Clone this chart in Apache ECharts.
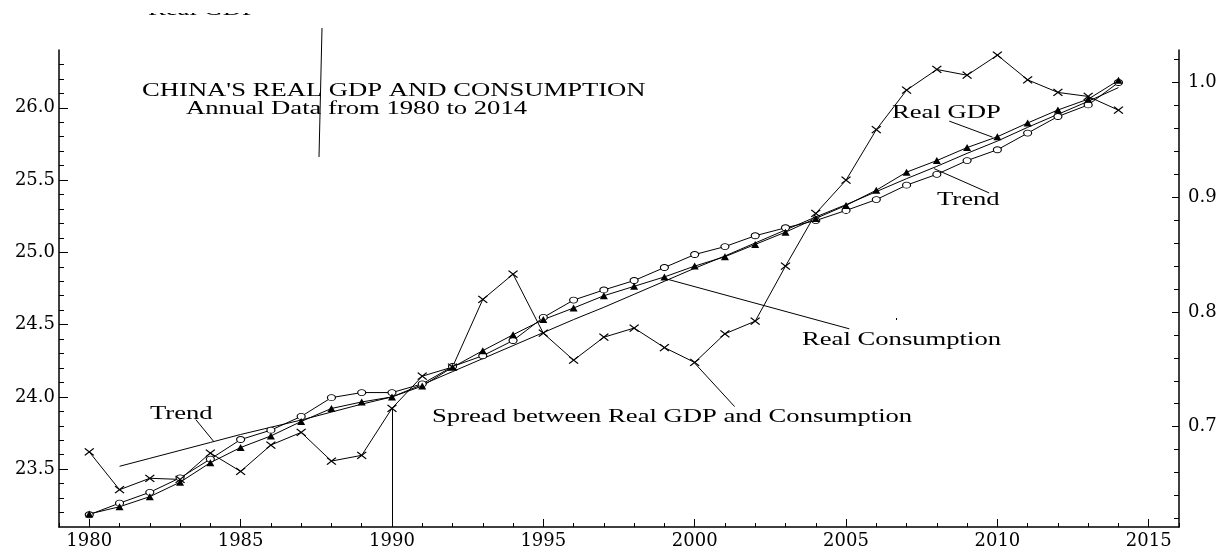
<!DOCTYPE html>
<html>
<head>
<meta charset="utf-8">
<script src="https://cdn.jsdelivr.net/npm/echarts@6/dist/echarts.min.js"></script>
<style>
  html, body { margin: 0; padding: 0; background: #fff; }
  #echart-box { width: 1230px; height: 546px; }
</style>
</head>
<body>
<div id="echart-box"></div>
<script>
// annual data 1980 - 2014
var years = [1980, 1981, 1982, 1983, 1984, 1985, 1986, 1987, 1988, 1989,
             1990, 1991, 1992, 1993, 1994, 1995, 1996, 1997, 1998, 1999,
             2000, 2001, 2002, 2003, 2004, 2005, 2006, 2007, 2008, 2009,
             2010, 2011, 2012, 2013, 2014];

// log real GDP (triangles, left axis)
var realGdp = [23.19, 23.24, 23.31, 23.41, 23.545, 23.65, 23.73, 23.83, 23.92, 23.965,
               24.00, 24.075, 24.205, 24.32, 24.43, 24.535, 24.615, 24.70, 24.765, 24.83,
               24.905, 24.97, 25.055, 25.14, 25.235, 25.325, 25.43, 25.555, 25.635, 25.725,
               25.80, 25.895, 25.985, 26.06, 26.19];

// log real consumption (open circles, left axis)
var realCons = [23.185, 23.265, 23.34, 23.44, 23.57, 23.705, 23.77, 23.865, 23.995, 24.03,
                24.03, 24.09, 24.21, 24.285, 24.39, 24.55, 24.67, 24.74, 24.805, 24.895,
                24.985, 25.04, 25.115, 25.17, 25.22, 25.29, 25.365, 25.465, 25.54, 25.635,
                25.71, 25.825, 25.94, 26.02, 26.175];

// trend (plain line, left axis)
var trend = ['-', 23.52, 23.575, 23.63, 23.685, 23.74, 23.79, 23.84, 23.895, 23.95,
             24.00, 24.085, 24.175, 24.265, 24.355, 24.445, 24.535, 24.62, 24.71, 24.80,
             24.89, 24.975, 25.065, 25.155, 25.245, 25.33, 25.42, 25.51, 25.595, 25.685,
             25.77, 25.865, 25.955, 26.045, 26.14];

// spread between real GDP and consumption (crosses, right axis)
var spread = [0.678, 0.645, 0.655, 0.654, 0.677, 0.661, 0.684, 0.695, 0.670, 0.675,
              0.716, 0.744, 0.752, 0.811, 0.833, 0.7815, 0.758, 0.778, 0.786, 0.769,
              0.756, 0.781, 0.792, 0.840, 0.886, 0.915, 0.959, 0.9935, 1.0115, 1.0065,
              1.024, 1.0025, 0.9915, 0.988, 0.976];

// tick labels and minor ticks
var xLabels = [1980, 1985, 1990, 1995, 2000, 2005, 2010, 2015];
var xMinor = [1979, 1980, 1981, 1982, 1983, 1984, 1985, 1986, 1987, 1988, 1989, 1990,
              1991, 1992, 1993, 1994, 1995, 1996, 1997, 1998, 1999, 2000, 2001, 2002,
              2003, 2004, 2005, 2006, 2007, 2008, 2009, 2010, 2011, 2012, 2013, 2014,
              2015, 2016];
var leftLabels = [23.5, 24.0, 24.5, 25.0, 25.5, 26.0];
var leftMinor = [23.2, 23.3, 23.4, 23.5, 23.6, 23.7, 23.8, 23.9, 24.0, 24.1, 24.2, 24.3,
                 24.4, 24.5, 24.6, 24.7, 24.8, 24.9, 25.0, 25.1, 25.2, 25.3, 25.4, 25.5,
                 25.6, 25.7, 25.8, 25.9, 26.0, 26.1, 26.2, 26.3];
var rightLabels = [0.7, 0.8, 0.9, 1.0];
var rightMinor = [0.62, 0.64, 0.66, 0.68, 0.70, 0.72, 0.74, 0.76, 0.78, 0.80, 0.82,
                  0.84, 0.86, 0.88, 0.90, 0.92, 0.94, 0.96, 0.98, 1.00, 1.02];

function init() {
    const element = document.getElementById("echart-box");
    const instance = echarts.init(element);

    function pairs(vals) {
        return years.map(function (y, i) { return [y, vals[i]]; });
    }

    var labelFont = { color: '#000', fontFamily: 'DejaVu Serif', fontSize: 18 };
    var black = { color: '#000', width: 1.5 };
    var fmt1 = function (v) { return v.toFixed(1); };

    // annotation texts (horizontally stretched serif, like the original plot)
    var notes = [
        { text: "CHINA'S REAL GDP AND CONSUMPTION", x: 142, y: 91 },
        { text: 'Annual Data from 1980 to 2014', x: 186, y: 109 },
        { text: 'Trend', x: 150, y: 414 },
        { text: 'Real GDP', x: 892, y: 113.5 },
        { text: 'Trend', x: 937, y: 200 },
        { text: 'Real Consumption', x: 802, y: 340 },
        { text: 'Spread between Real GDP and Consumption', x: 432, y: 417 },
        { text: 'Real GDP', x: 148, y: 10.5 }
    ];
    var graphics = notes.map(function (n) {
        return {
            type: 'text', x: n.x, y: n.y, scaleX: 1.48, z: 10, silent: true,
            style: { text: n.text, fontSize: 18, fontFamily: 'Liberation Serif',
                     fill: '#000', align: 'left', verticalAlign: 'middle' }
        };
    });
    // the old plot had its top label cut off
    graphics.push({ type: 'rect', z: 11, silent: true, shape: { x: 130, y: 0, width: 140, height: 13 },
                    style: { fill: '#fff' } });
    graphics.push({ type: 'line', z: 10, silent: true, shape: { x1: 322, y1: 28, x2: 319, y2: 157 },
                    style: { stroke: '#000', lineWidth: 1 } });
    graphics.push({ type: 'rect', z: 10, silent: true, shape: { x: 896, y: 318, width: 1, height: 2 },
                    style: { fill: '#000' } });

    function leader(a, b) {
        return [{ coord: a }, { coord: b }];
    }
    var markLineBase = {
        silent: true, symbol: ['none', 'none'], animation: false,
        label: { show: false }, emphasis: { disabled: true },
        lineStyle: { color: '#000', width: 1, type: 'solid' }
    };

    option = {
        animation: false,
        backgroundColor: '#fff',
        grid: { left: 59, right: 51, top: 50, bottom: 19, containLabel: false, outerBoundsMode: 'none' },
        xAxis: [
            {
                type: 'value', min: 1979, max: 2016, position: 'bottom',
                axisLine: { lineStyle: black },
                axisTick: { inside: true, length: 8, customValues: xLabels, lineStyle: { color: '#000' } },
                axisLabel: Object.assign({ customValues: xLabels, margin: 5, formatter: function (v) { return String(v); } }, labelFont),
                splitLine: { show: false }
            },
            {
                type: 'value', min: 1979, max: 2016, position: 'bottom',
                axisLine: { show: false },
                axisTick: { inside: true, length: 4, customValues: xMinor, lineStyle: { color: '#000' } },
                axisLabel: { show: false },
                splitLine: { show: false }
            }
        ],
        yAxis: [
            {
                type: 'value', min: 23.1, max: 26.4, position: 'left',
                axisLine: { show: true, lineStyle: black },
                axisTick: { show: true, inside: true, length: 9, customValues: leftLabels, lineStyle: { color: '#000' } },
                axisLabel: Object.assign({ customValues: leftLabels, margin: 4, formatter: fmt1 }, labelFont),
                splitLine: { show: false }
            },
            {
                type: 'value', min: 23.1, max: 26.4, position: 'left',
                axisLine: { show: false },
                axisTick: { show: true, inside: true, length: 5, customValues: leftMinor, lineStyle: { color: '#000' } },
                axisLabel: { show: false },
                splitLine: { show: false }
            },
            {
                type: 'value', min: 0.6125, max: 1.0285, position: 'right',
                axisLine: { show: true, lineStyle: black },
                axisTick: { show: true, inside: true, length: 7, customValues: rightLabels, lineStyle: { color: '#000' } },
                axisLabel: Object.assign({ customValues: rightLabels, margin: 9, formatter: fmt1 }, labelFont),
                splitLine: { show: false }
            },
            {
                type: 'value', min: 0.6125, max: 1.0285, position: 'right',
                axisLine: { show: false },
                axisTick: { show: true, inside: true, length: 5, customValues: rightMinor, lineStyle: { color: '#000' } },
                axisLabel: { show: false },
                splitLine: { show: false }
            }
        ],
        graphic: graphics,
        series: [
            {
                name: 'Trend', type: 'line', xAxisIndex: 0, yAxisIndex: 0,
                data: pairs(trend), showSymbol: false, symbol: 'none',
                lineStyle: { color: '#000', width: 1 }
            },
            {
                name: 'Real Consumption', type: 'line', xAxisIndex: 0, yAxisIndex: 0,
                data: pairs(realCons), symbol: 'circle', symbolSize: [8, 6],
                itemStyle: { color: '#fff', borderColor: '#000', borderWidth: 1 },
                lineStyle: { color: '#000', width: 1 }
            },
            {
                name: 'Real GDP', type: 'line', xAxisIndex: 0, yAxisIndex: 0,
                data: pairs(realGdp), symbol: 'triangle', symbolSize: [8, 7],
                itemStyle: { color: '#000' },
                lineStyle: { color: '#000', width: 1 },
                markLine: Object.assign({
                    data: [
                        leader([1983.52, 23.843], [1984.11, 23.692]),
                        leader([2008.41, 25.908], [2009.84, 25.797]),
                        leader([2007.91, 25.579], [2009.73, 25.411]),
                        leader([1998.98, 24.821], [2005.11, 24.471])
                    ]
                }, markLineBase)
            },
            {
                name: 'Spread between Real GDP and Consumption', type: 'line', xAxisIndex: 0, yAxisIndex: 2,
                data: pairs(spread), symbol: 'path://M0,0L10,10M10,0L0,10', symbolSize: [9, 7],
                itemStyle: { color: '#000', borderColor: '#000', borderWidth: 1.2 },
                lineStyle: { color: '#000', width: 1 },
                markLine: Object.assign({
                    data: [
                        leader([2000.0, 0.7554], [2001.32, 0.7175]),
                        leader([1990, 0.716], [1990, 0.6125])
                    ]
                }, markLineBase)
            }
        ]
    };
    option && instance.setOption(option);

    window.onresize = function () {
        instance.resize();
    };
}
init();
</script>
</body>
</html>
